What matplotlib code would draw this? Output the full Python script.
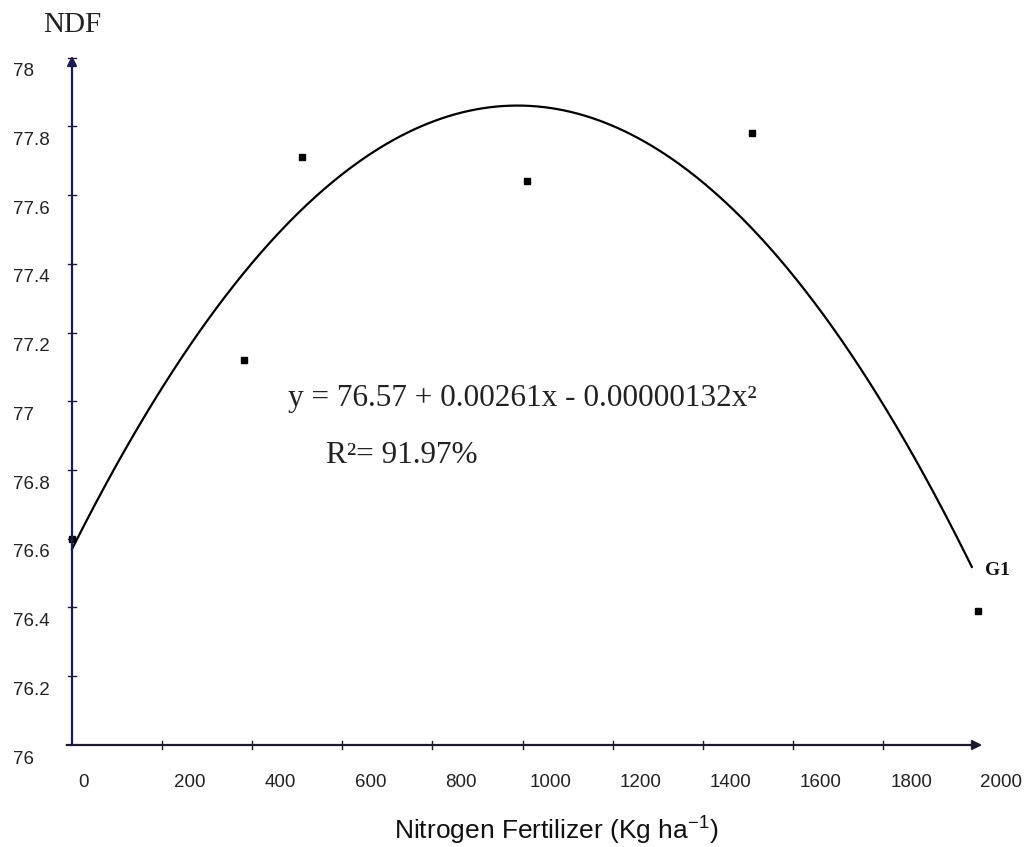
import numpy as np
import matplotlib
matplotlib.use("Agg")
import matplotlib.pyplot as plt
from matplotlib import transforms

plt.rcParams["mathtext.fontset"] = "custom"
plt.rcParams["mathtext.rm"] = "Liberation Sans"
plt.rcParams["mathtext.default"] = "rm"

# ---- data ----
nitrogen = [0, 382, 510, 1010, 1509, 2011]
ndf = [76.60, 77.12, 77.71, 77.64, 77.78, 76.39]
coef = [76.57, 0.00261, -0.00000132]   # fitted quadratic
curve_x_max = 1997
xtick_values = [0, 200, 400, 600, 800, 1000, 1200, 1400, 1600, 1800, 2000]
xtick_labels = ["0", "200", "400", "600", "800", "1000", "1200", "1400", "1600", "1800", "2000"]
ytick_values = [76, 76.2, 76.4, 76.6, 76.8, 77, 77.2, 77.4, 77.6, 77.8, 78]
ytick_labels = ["76", "76.2", "76.4", "76.6", "76.8", "77", "77.2", "77.4", "77.6", "77.8", "78"]
equation_text = "y = 76.57 + 0.00261x - 0.00000132x\u00b2"
r2_text = "R\u00b2= 91.97%"
series_label = "G1"
y_title = "NDF"
x_title = "Nitrogen Fertilizer (Kg ha$^{-1}$)"

W, H = 1028, 847
fig = plt.figure(figsize=(W / 100, H / 100), dpi=100)
fig.patch.set_facecolor("white")

xlo, xhi = -12, 2020
ylo, yhi = 76.0, 78.0
left_px = 66.6
right_px = 982.2
top_px = 57.5
bottom_px = 745.0
ax = fig.add_axes([left_px / W, 1 - bottom_px / H, (right_px - left_px) / W, (bottom_px - top_px) / H])
ax.set_xlim(xlo, xhi)
ax.set_ylim(ylo, yhi)
ax.set_facecolor("white")
for s in ax.spines.values():
    s.set_visible(False)
ax.set_xticks([])
ax.set_yticks([])

axis_col = "#1c1c2e"
# axis lines with arrows
ax.annotate("", xy=(xhi, ylo), xytext=(xlo, ylo), xycoords="data",
            arrowprops=dict(arrowstyle="-|>", color=axis_col, lw=1.6, mutation_scale=14,
                            shrinkA=0, shrinkB=0), annotation_clip=False)
ax.annotate("", xy=(0, yhi + 0.005), xytext=(0, ylo), xycoords="data",
            arrowprops=dict(arrowstyle="-|>", color="#1a1a55", lw=1.6, mutation_scale=14,
                            shrinkA=0, shrinkB=0), annotation_clip=False)

# tick marks (crossing the axes)
xpx = 0.4506
tl = 4.0  # half length in px -> converted to data units
for xv in xtick_values[1:-1]:
    ax.plot([xv, xv], [ylo - tl / 343.75, ylo + tl / 343.75], color=axis_col, lw=1.0, clip_on=False)
for yv in ytick_values[1:]:
    ax.plot([-tl / xpx, tl / xpx], [yv, yv], color=axis_col, lw=1.0, clip_on=False)

# tick labels (offset from ticks as in the reference)
ylab_tr = transforms.blended_transform_factory(fig.transFigure, ax.transData) + \
    transforms.ScaledTranslation(0, -14 / 100, fig.dpi_scale_trans)
for yv, lab in zip(ytick_values, ytick_labels):
    fig.text(13 / W, yv, lab, transform=ylab_tr, ha="left", va="center",
             fontsize=13.5, family="Liberation Sans", color="#222222")
for i, (xv, lab) in enumerate(zip(xtick_values, xtick_labels)):
    off = 11 if i == 0 else 28
    tr = transforms.blended_transform_factory(ax.transData, fig.transFigure) + \
        transforms.ScaledTranslation(off / 100, 0, fig.dpi_scale_trans)
    fig.text(xv, 1 - 782 / H, lab, transform=tr, ha="center", va="center",
             fontsize=13.5, family="Liberation Sans", color="#222222")

# fitted curve
xc = np.linspace(0, curve_x_max, 400)
yc = coef[0] + coef[1] * xc + coef[2] * xc ** 2
ax.plot(xc, yc, color="black", lw=1.6, clip_on=False)

# observed points
ax.plot(nitrogen, ndf, linestyle="none", marker="s", markersize=5, color="black", clip_on=False)

# texts
fig.text(288 / W, 1 - 406 / H, equation_text, ha="left", va="baseline",
         fontsize=22.5, family="Liberation Serif", color="#222222")
fig.text(326 / W, 1 - 463 / H, r2_text, ha="left", va="baseline",
         fontsize=22.5, family="Liberation Serif", color="#222222")
fig.text(985 / W, 1 - 570 / H, series_label, ha="left", va="center",
         fontsize=14, family="Liberation Serif", fontweight="bold", color="#111111")
fig.text(43 / W, 1 - 25 / H, y_title, ha="left", va="center",
         fontsize=21, family="Liberation Serif", color="#222222")
fig.text(556 / W, 1 - 840 / H, x_title, ha="center", va="baseline",
         fontsize=19, family="Liberation Sans", color="#111111")

fig.savefig("out.png", dpi=100, facecolor="white")
